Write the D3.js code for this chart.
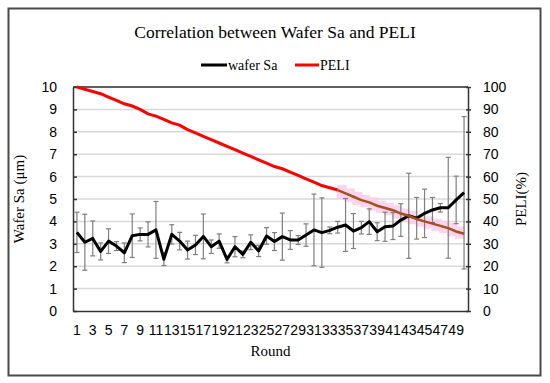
<!DOCTYPE html>
<html>
<head>
<meta charset="utf-8">
<script src="https://cdn.jsdelivr.net/npm/d3@7"></script>
<style>
  body { margin: 0; background: #fff; }
  svg { display: block; font-family: "Times New Roman", "Liberation Serif", serif; }
</style>
</head>
<body>
<div id="chart"></div>
<script>
// chart data
const rounds = d3.range(1, 51);
const xTickLabels = rounds.filter(r => r % 2 === 1);
const waferSa = [3.51, 3.07, 3.24, 2.66, 3.12, 2.9, 2.6, 3.36, 3.42, 3.42,
                 3.62, 2.31, 3.42, 3.12, 2.72, 2.95, 3.33, 2.87, 3.12, 2.3,
                 2.87, 2.53, 3.07, 2.68, 3.35, 3.1, 3.32, 3.17, 3.17, 3.39,
                 3.62, 3.5, 3.6, 3.74, 3.84, 3.57, 3.72, 3.99, 3.54, 3.76,
                 3.79, 4.06, 4.25, 4.14, 4.36, 4.51, 4.61, 4.61, 4.96, 5.28];
const waferSaErr = [0.9, 1.25, 0.78, 0.38, 0.55, 0.2, 0.44, 0.97, 0.29, 0.56,
                    1.27, 0.28, 0.43, 0.39, 0.4, 0.43, 1.0, 0.3, 0.32, 0.15,
                    0.45, 0.15, 0.33, 0.25, 0.37, 0.4, 1.05, 0.42, 0.2, 0.5,
                    1.6, 1.55, 0.15, 0.26, 1.18, 0.78, 0.28, 0.57, 0.4, 0.65,
                    0.6, 0.73, 1.9, 0.93, 1.08, 0.56, 0.19, 2.25, 1.06, 3.4];
const peli = [100, 99, 98, 97, 95.5, 94, 92.5, 91.5, 90, 88,
              87, 85.5, 84, 83, 81, 79.5, 78, 76.5, 75, 73.5,
              72, 70.5, 69, 67.5, 66, 64.5, 63.5, 62, 60.5, 59,
              57.5, 56, 55, 54, 52.5, 51, 49.5, 48.5, 47, 46,
              45, 43.5, 42.5, 41, 40, 39, 38, 37, 35.5, 34.5];
const peliShadeFrom = 34; // from this round the PELI line is overlaid (brown + pink band)
const leftTicks = d3.range(0, 11);
const rightTicks = d3.range(0, 101, 10);

const W = 550, H = 383;
const margin = {top: 87, right: 82, bottom: 72, left: 73};
const width = W - margin.left - margin.right;
const height = H - margin.top - margin.bottom;

const svg = d3.select('#chart').append('svg')
    .attr('width', W)
    .attr('height', H);

// outer frame
svg.append('rect')
    .attr('x', 8.5).attr('y', 8.5)
    .attr('width', 532).attr('height', 367)
    .attr('fill', '#fff')
    .attr('stroke', '#4a4a4a')
    .attr('stroke-width', 2);

// title
svg.append('text')
    .attr('x', 275).attr('y', 38)
    .attr('text-anchor', 'middle')
    .attr('font-size', 17.5)
    .text('Correlation between Wafer Sa and PELI');

// legend
const legend = svg.append('g').attr('transform', 'translate(201, 65)');
legend.append('line').attr('x1', 0).attr('x2', 26).attr('stroke', '#000').attr('stroke-width', 3);
legend.append('text').attr('x', 27).attr('y', 4.5).attr('font-size', 14).text('wafer Sa');
legend.append('line').attr('x1', 94).attr('x2', 118).attr('stroke', '#ff0000').attr('stroke-width', 3);
legend.append('text').attr('x', 119).attr('y', 4.5).attr('font-size', 14).text('PELI');

const g = svg.append('g')
    .attr('transform', `translate(${margin.left}, ${margin.top})`);

// scales
const x = d3.scaleBand()
    .domain(rounds)
    .range([0, width]);
const y = d3.scaleLinear()
    .domain([0, 10])
    .range([height, 0]);
const y2 = d3.scaleLinear()
    .domain([0, 100])
    .range([height, 0]);
const cx = r => x(r) + x.bandwidth() / 2;

// gridlines
g.append('g')
    .selectAll('line')
    .data(leftTicks.slice(1))
    .join('line')
        .attr('x1', 0).attr('x2', width)
        .attr('y1', d => y(d)).attr('y2', d => y(d))
        .attr('stroke', '#d9d9d9')
        .attr('stroke-width', 1.5);

// plot area border (top)
g.append('line')
    .attr('x1', 0).attr('x2', width)
    .attr('y1', 0).attr('y2', 0)
    .attr('stroke', '#333').attr('stroke-width', 1.5);

// axes
const gx = g.append('g')
    .attr('transform', `translate(0, ${height})`)
    .call(d3.axisBottom(x).tickValues(xTickLabels).tickSize(0).tickPadding(14));
gx.select('.domain').attr('stroke', '#333').attr('stroke-width', 1.5);
gx.selectAll('text').attr('font-size', 14).attr('font-family', null).attr('fill', '#000');

const gy = g.append('g')
    .call(d3.axisLeft(y).tickValues(leftTicks).tickSizeInner(-4).tickSizeOuter(0).tickPadding(16));
gy.select('.domain').attr('stroke', '#333').attr('stroke-width', 1.5);
gy.selectAll('.tick line').attr('stroke', '#333').attr('stroke-width', 1.5);
gy.selectAll('text').attr('font-size', 14).attr('font-family', null).attr('fill', '#000');

const gy2 = g.append('g')
    .attr('transform', `translate(${width}, 0)`)
    .call(d3.axisRight(y2).tickValues(rightTicks).tickSizeInner(3).tickSizeOuter(0).tickPadding(12));
gy2.select('.domain').attr('stroke', '#333').attr('stroke-width', 1.5);
gy2.selectAll('.tick line').attr('stroke', '#333').attr('stroke-width', 1.5).attr('x1', -2);
gy2.selectAll('text').attr('font-size', 14).attr('font-family', null).attr('fill', '#000');

// axis titles
g.append('text')
    .attr('x', width / 2).attr('y', height + 45)
    .attr('text-anchor', 'middle')
    .attr('font-size', 15)
    .text('Round');
g.append('text')
    .attr('transform', `translate(-49, ${height / 2}) rotate(-90)`)
    .attr('text-anchor', 'middle')
    .attr('font-size', 15)
    .text('Wafer Sa (μm)');
g.append('text')
    .attr('transform', `translate(${width + 58}, ${height / 2}) rotate(-90)`)
    .attr('text-anchor', 'middle')
    .attr('font-size', 15)
    .text('PELI(%)');

// PELI series
const peliData = rounds.map((r, i) => ({r: r, v: peli[i]}));
const peliLine = d3.line().x(d => cx(d.r)).y(d => y2(d.v));
const shaded = peliData.filter(d => d.r >= peliShadeFrom);

g.append('path')
    .datum(shaded)
    .attr('d', d3.line().x(d => cx(d.r)).y(d => y2(d.v)).curve(d3.curveStep))
    .attr('fill', 'none')
    .attr('stroke', '#fbcdea')
    .attr('stroke-width', 10)
    .attr('opacity', 0.85);

g.append('path')
    .datum(peliData.filter(d => d.r <= peliShadeFrom))
    .attr('d', peliLine)
    .attr('fill', 'none')
    .attr('stroke', '#ff0000')
    .attr('stroke-width', 3);

// error bars for wafer Sa
const saData = rounds.map((r, i) => ({r: r, v: waferSa[i], e: waferSaErr[i]}));
const eb = g.append('g')
    .attr('stroke', '#7f7f7f')
    .attr('stroke-width', 1.2)
    .selectAll('g')
    .data(saData)
    .join('g');
eb.append('line')
    .attr('x1', d => cx(d.r)).attr('x2', d => cx(d.r))
    .attr('y1', d => y(d.v + d.e)).attr('y2', d => y(d.v - d.e));
eb.append('line')
    .attr('x1', d => cx(d.r) - 2.5).attr('x2', d => cx(d.r) + 2.5)
    .attr('y1', d => y(d.v + d.e)).attr('y2', d => y(d.v + d.e));
eb.append('line')
    .attr('x1', d => cx(d.r) - 2.5).attr('x2', d => cx(d.r) + 2.5)
    .attr('y1', d => y(d.v - d.e)).attr('y2', d => y(d.v - d.e));

// wafer Sa line
g.append('path')
    .datum(saData)
    .attr('d', d3.line().x(d => cx(d.r)).y(d => y(d.v)))
    .attr('fill', 'none')
    .attr('stroke', '#000')
    .attr('stroke-width', 3)
    .attr('stroke-linejoin', 'round');

// overlaid part of PELI (drawn brownish on top)
g.append('path')
    .datum(shaded)
    .attr('d', peliLine)
    .attr('fill', 'none')
    .attr('stroke', '#a4501c')
    .attr('stroke-width', 2.5);
</script>
</body>
</html>
